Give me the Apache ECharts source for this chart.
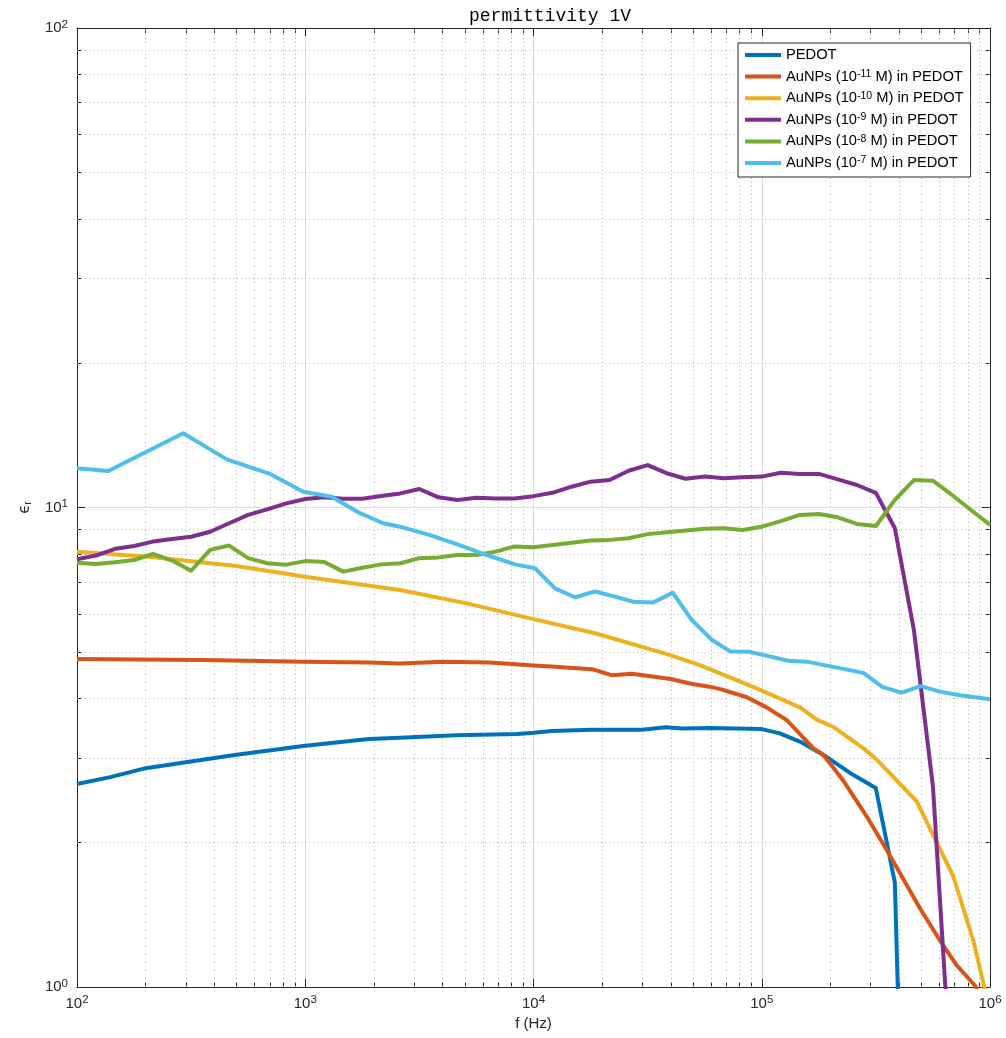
<!DOCTYPE html>
<html><head><meta charset="utf-8">
<script src="https://cdn.jsdelivr.net/npm/echarts@6/dist/echarts.min.js"></script>
<style>html,body{margin:0;padding:0;background:#fff}#c{width:1006px;height:1038px}</style>
</head><body><div id="c"></div>
<script>
// ---- data (frequency in Hz, relative permittivity) ----
const seriesNames = [
  'PEDOT',
  'AuNPs (10^-11 M) in PEDOT',
  'AuNPs (10^-10 M) in PEDOT',
  'AuNPs (10^-9 M) in PEDOT',
  'AuNPs (10^-8 M) in PEDOT',
  'AuNPs (10^-7 M) in PEDOT'
];
const seriesColors = ['#0072BD', '#D95319', '#EDB120', '#7E2F8E', '#77AC30', '#4DBEEE'];

const freqGrid = [100, 121, 147, 178, 215, 261, 316, 383, 464, 562, 681, 825,
  1000, 1212, 1468, 1778, 2154, 2610, 3162, 3831, 4642, 5623, 6813, 8254,
  10000, 12115, 14678, 17783, 21544, 26102, 31623, 38312, 46416, 56234, 68129, 82540,
  100000, 121153, 146780, 177828, 215443, 261016, 316228, 383119, 464159, 562341, 681292, 825404, 1000000];

const pedotF = [100, 140, 200, 310, 500, 980, 1900, 2600, 4600, 8500, 10000, 12000, 18000, 30000, 38000, 45000, 59000, 100000, 120000, 147000, 192000, 251000, 316000, 383000, 446000];
const pedotE = [2.65, 2.74, 2.86, 2.95, 3.05, 3.18, 3.29, 3.31, 3.35, 3.37, 3.39, 3.42, 3.44, 3.44, 3.48, 3.46, 3.47, 3.45, 3.38, 3.25, 3.02, 2.77, 2.60, 1.65, 0.12];

const au11F = [100, 356, 980, 1900, 2600, 4000, 6400, 10000, 12000, 18000, 22000, 27000, 40000, 49000, 59000, 66000, 86000, 105000, 129000, 168000, 186000, 227000, 288000, 353000, 493000, 604000, 715000, 860000, 900000];
const au11E = [4.83, 4.81, 4.77, 4.75, 4.73, 4.77, 4.75, 4.68, 4.66, 4.60, 4.47, 4.50, 4.39, 4.29, 4.23, 4.18, 4.02, 3.83, 3.60, 3.15, 3.05, 2.70, 2.27, 1.93, 1.46, 1.25, 1.11, 1.006, 0.97];

const au10F = [100, 200, 500, 1000, 2600, 5100, 10000, 18800, 38800, 53600, 65600, 93300, 147000, 174000, 205000, 278000, 319000, 477000, 691000, 845000, 935000, 1000000];
const au10E = [8.09, 7.90, 7.55, 7.17, 6.73, 6.31, 5.85, 5.46, 4.94, 4.69, 4.51, 4.21, 3.83, 3.61, 3.49, 3.15, 2.98, 2.44, 1.70, 1.25, 1.02, 0.88];

const au9E = [7.80, 7.94, 8.20, 8.31, 8.49, 8.60, 8.69, 8.90, 9.27, 9.65, 9.91, 10.20,
  10.42, 10.50, 10.43, 10.43, 10.57, 10.70, 10.93, 10.50, 10.37, 10.48, 10.44, 10.44,
  10.56, 10.73, 11.05, 11.32, 11.41, 11.93, 12.26, 11.79, 11.48, 11.60, 11.51, 11.56,
  11.60, 11.82, 11.75, 11.75, 11.45, 11.14, 10.73, 9.05, 5.55, 2.62, 0.6];

const au8E = [7.67, 7.62, 7.69, 7.77, 8.00, 7.75, 7.38, 8.16, 8.33, 7.84, 7.65, 7.60,
  7.73, 7.70, 7.35, 7.49, 7.61, 7.65, 7.84, 7.87, 7.96, 7.96, 8.09, 8.29,
  8.26, 8.35, 8.44, 8.53, 8.56, 8.63, 8.80, 8.88, 8.95, 9.03, 9.05, 8.98,
  9.12, 9.37, 9.65, 9.69, 9.54, 9.24, 9.15, 10.37, 11.41, 11.37, 10.62, 9.88, 9.20];

const au7F = [100, 137, 292, 453, 701, 981, 1306, 1737, 2198, 2601, 3521, 4608, 6237, 8299, 10150, 12420, 15200, 18590, 22750, 27370, 33490, 40730, 49330, 60370, 72600, 88830, 130700, 157400, 278600, 338800, 410300, 497000, 603900, 738800, 1000000];
const au7E = [12.07, 11.92, 14.28, 12.60, 11.75, 10.79, 10.53, 9.73, 9.27, 9.12, 8.76, 8.39, 7.96, 7.61, 7.47, 6.78, 6.50, 6.68, 6.52, 6.36, 6.34, 6.64, 5.83, 5.30, 5.01, 5.00, 4.79, 4.77, 4.52, 4.22, 4.11, 4.24, 4.13, 4.06, 3.98];

const xDecades = [2, 3, 4, 5];
const yDecades = [0, 1];
const minorMult = [2, 3, 4, 5, 6, 7, 8, 9];

// ---- build ----
const pairs = (fs, es) => es.map((e, i) => [fs[i], e]);
const seriesData = [
  pairs(pedotF, pedotE),
  pairs(au11F, au11E),
  pairs(au10F, au10E),
  pairs(freqGrid, au9E),
  pairs(freqGrid, au8E),
  pairs(au7F, au7E)
];

const minorX = [], minorY = [];
xDecades.forEach(d => minorMult.forEach(m => minorX.push(m * Math.pow(10, d))));
yDecades.forEach(d => minorMult.forEach(m => minorY.push(m * Math.pow(10, d))));

const FONT = 'Liberation Sans';
const AX = '#262626';
const tickRich = {
  b: { fontFamily: FONT, fontSize: 15, color: AX, lineHeight: 19 },
  s: { fontFamily: FONT, fontSize: 11.5, color: AX, lineHeight: 11, verticalAlign: 'top' }
};
const powFmt = v => '{b|10}{s|' + Math.round(Math.log10(v)) + '}';

function logAxis(pos, main, min, max) {
  return {
    type: 'log', logBase: 10, min: min, max: max, interval: 1, position: pos,
    axisLine: { show: true, onZero: false, lineStyle: { color: AX, width: 1 } },
    axisTick: { show: true, inside: true, length: 8, lineStyle: { color: AX, width: 1 } },
    axisLabel: main ? { show: true, formatter: powFmt, rich: tickRich, showMinLabel: true, showMaxLabel: true, margin: pos === 'left' ? 9 : 7 } : { show: false },
    splitLine: main ? { show: true, lineStyle: { color: '#dedede', width: 1 } } : { show: false },
    minorTick: { show: false }
  };
}
function minorAxis(pos, lo, hi, vals) {
  return {
    type: 'value', min: lo, max: hi, position: pos,
    axisLine: { show: false, onZero: false },
    axisTick: { show: true, inside: true, length: 5, customValues: vals.map(v => Math.log10(v)), lineStyle: { color: AX, width: 1 } },
    axisLabel: { show: false },
    splitLine: { show: false }
  };
}

const xMain = logAxis('bottom', true, 100, 1000000);
xMain.name = 'f (Hz)';
xMain.nameLocation = 'middle';
xMain.nameGap = 29;
xMain.nameTextStyle = { fontFamily: FONT, fontSize: 15, color: AX };

const yMain = logAxis('left', true, 1, 100);
yMain.name = '{e|ϵ}{r|r}';
yMain.nameLocation = 'middle';
yMain.nameRotate = 90;
yMain.nameGap = 43;
yMain.nameTextStyle = {
  rich: {
    e: { fontFamily: 'DejaVu Sans', fontSize: 15, color: AX, lineHeight: 18 },
    r: { fontFamily: FONT, fontSize: 10.5, color: AX, lineHeight: 10, verticalAlign: 'bottom', padding: [6, 0, 0, 0] }
  }
};

const legendFmt = name => name.replace(/\^(-\d+)/, '{sup|$1}');

const series = [{
  type: 'line', data: [], xAxisIndex: 0, yAxisIndex: 0, silent: true,
  markLine: {
    silent: true, symbol: ['none', 'none'], animation: false, z: 1,
    label: { show: false },
    lineStyle: { type: [1, 3], color: '#b8b8b8', width: 1 },
    emphasis: { disabled: true },
    data: minorX.map(v => ({ xAxis: v })).concat(minorY.map(v => ({ yAxis: v })))
  }
}];
seriesNames.forEach((n, i) => {
  series.push({
    name: n, type: 'line', data: seriesData[i], xAxisIndex: 0, yAxisIndex: 0,
    showSymbol: false, symbol: 'none', z: 3 + i,
    lineStyle: { color: seriesColors[i], width: 4, join: 'round', cap: 'butt' },
    itemStyle: { color: seriesColors[i] },
    clip: true
  });
});

const chart = echarts.init(document.getElementById('c'), null, { renderer: 'canvas' });
chart.setOption({
  animation: false,
  backgroundColor: '#ffffff',
  title: {
    text: 'permittivity 1V', left: 469, top: 7, padding: 0,
    textStyle: { fontFamily: 'Liberation Mono', fontSize: 18, fontWeight: 'normal', color: '#000' }
  },
  grid: { left: 77, right: 16, top: 28, bottom: 51, containLabel: false },
  legend: {
    data: seriesNames, orient: 'vertical', left: 738, top: 43,
    icon: 'rect', itemWidth: 36, itemHeight: 4, itemGap: 5.6,
    padding: [4, 7, 6, 7],
    backgroundColor: '#ffffff', borderColor: AX, borderWidth: 1,
    formatter: legendFmt,
    selectedMode: false,
    textStyle: {
      fontFamily: FONT, fontSize: 14.7, color: '#000', lineHeight: 16,
      rich: { sup: { fontFamily: FONT, fontSize: 10.5, color: '#000', lineHeight: 10, verticalAlign: 'top' } }
    }
  },
  xAxis: [
    xMain,
    logAxis('top', false, 100, 1000000),
    minorAxis('bottom', 2, 6, minorX),
    minorAxis('top', 2, 6, minorX)
  ],
  yAxis: [
    yMain,
    logAxis('right', false, 1, 100),
    minorAxis('left', 0, 2, minorY),
    minorAxis('right', 0, 2, minorY)
  ],
  series: series
});
</script></body></html>
